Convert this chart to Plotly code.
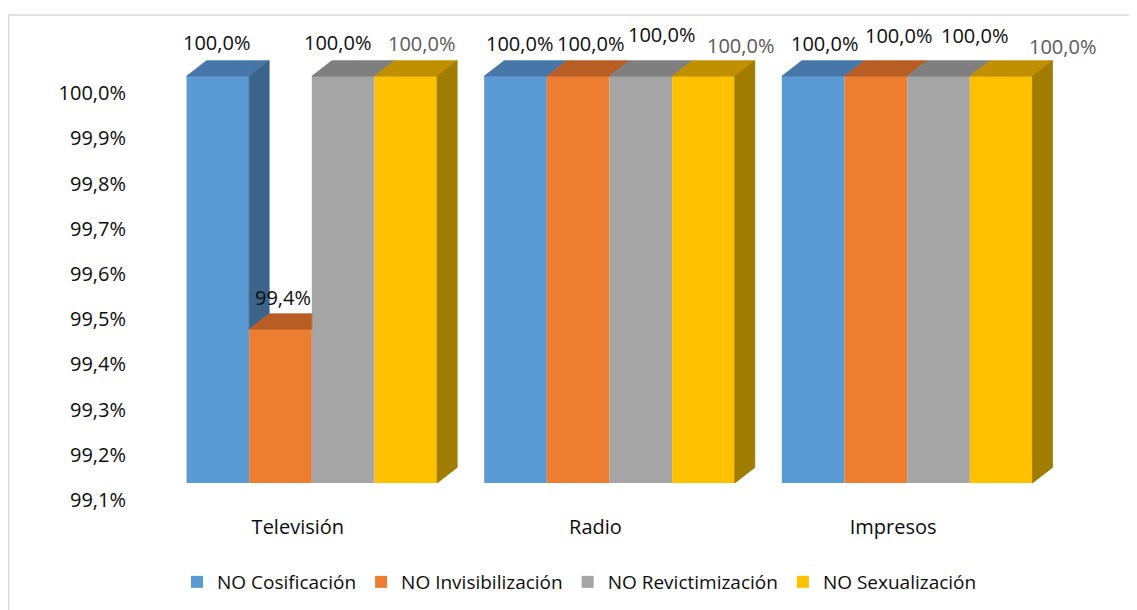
import plotly.graph_objects as go

# ---------------- data ----------------
categories = ["Televisión", "Radio", "Impresos"]
series_names = ["NO Cosificación", "NO Invisibilización", "NO Revictimización", "NO Sexualización"]
no_cosificacion = [100.0, 100.0, 100.0]
no_invisibilizacion = [99.44, 100.0, 100.0]
no_revictimizacion = [100.0, 100.0, 100.0]
no_sexualizacion = [100.0, 100.0, 100.0]
y_ticks = [99.1, 99.2, 99.3, 99.4, 99.5, 99.6, 99.7, 99.8, 99.9, 100.0]

series_values = [no_cosificacion, no_invisibilizacion, no_revictimizacion, no_sexualizacion]

# ---------------- style ----------------
FRONT = ["#5B9BD5", "#ED7D31", "#A5A5A5", "#FFC000"]
TOP = ["#4677A8", "#B85E24", "#7F7F7F", "#C09000"]
SIDE = ["#3A6489", "#9E4F1E", "#6E6E6E", "#A07C00"]
LABEL_COLORS = ["#0D0D0D", "#0D0D0D", "#0D0D0D", "#595959"]
FONT = "Open Sans"

def fmt_pct(v):
    return f"{v:.1f}".replace(".", ",") + "%"

W, H = 1137, 610
ML, MR, MT, MB = 154.5, 88.5, 32, 135
PW = W - ML - MR
PH = H - MT - MB
PX_PER_CAT = PW / 3.0
PX_PER_PCT = 452.0
BASE = y_ticks[0]
Y_TOP = BASE + PH / PX_PER_PCT

GROUP_W = 0.842
BW = GROUP_W / 4
DX = 20.0 / PX_PER_CAT
DY = 15.5 / PX_PER_PCT

# label nudges in pixels (dx, dy) per series per category
LABEL_NUDGE = [
    [(-1.5, 0), (4, -1), (11, -1)],
    [(2.5, -2), (12, -1), (23, 7)],
    [(-5.5, 0), (21, 8), (36, 7)],
    [(16, -1), (37, -3), (61, -4)],
]
LABEL_RAISE = 34

fig = go.Figure()

def xpos(i, j):
    return i + (j - 1.5) * BW

# front faces (bars)
for j, name in enumerate(series_names):
    vals = series_values[j]
    fig.add_trace(go.Bar(
        x=[xpos(i, j) for i in range(len(categories))],
        y=[v - BASE for v in vals],
        base=BASE,
        width=BW,
        name=name,
        marker=dict(color=FRONT[j], line=dict(width=0)),
        hoverinfo="skip",
    ))

# 3D top and side faces
for j in range(len(series_names)):
    tx, ty, sx, sy = [], [], [], []
    for i in range(len(categories)):
        v = series_values[j][i]
        xc = xpos(i, j)
        xl, xr = xc - BW / 2, xc + BW / 2
        nxt = series_values[j + 1][i] if j < len(series_names) - 1 else None
        if nxt is not None and nxt > v:
            px = [xl, xr, xr, xl + DX]
        else:
            px = [xl, xr, xr + DX, xl + DX]
        py = [v, v, v + DY, v + DY]
        tx += px + [px[0], None]
        ty += py + [py[0], None]
        if nxt is None:
            qx = [xr, xr + DX, xr + DX, xr]
            qy = [v, v + DY, BASE + DY, BASE]
        elif nxt < v:
            qx = [xr, xr + DX, xr + DX, xr]
            qy = [v, v + DY, nxt + DY, nxt]
        else:
            qx, qy = [], []
        if qx:
            sx += qx + [qx[0], None]
            sy += qy + [qy[0], None]
    fig.add_trace(go.Scatter(x=tx, y=ty, mode="lines", fill="toself",
                             fillcolor=TOP[j], line=dict(color=TOP[j], width=0.8),
                             showlegend=False, hoverinfo="skip"))
    if sx:
        fig.add_trace(go.Scatter(x=sx, y=sy, mode="lines", fill="toself",
                                 fillcolor=SIDE[j], line=dict(color=SIDE[j], width=0.8),
                                 showlegend=False, hoverinfo="skip"))

# data labels
for j in range(len(series_names)):
    for i in range(len(categories)):
        v = series_values[j][i]
        ndx, ndy = LABEL_NUDGE[j][i]
        fig.add_annotation(
            x=xpos(i, j), y=v, xref="x", yref="y",
            text=fmt_pct(v),
            showarrow=False, xanchor="center", yanchor="middle",
            xshift=ndx, yshift=LABEL_RAISE + ndy,
            font=dict(family=FONT, size=20, color=LABEL_COLORS[j]),
        )

# chart border
fig.add_shape(type="rect", xref="paper", yref="paper",
              x0=(0 - ML) / PW, x1=(W + 10 - ML) / PW,
              y0=-(MB + 10) / PH, y1=(H - MB - 7) / PH,
              line=dict(color="#D9D9D9", width=1.5), fillcolor="rgba(0,0,0,0)",
              layer="below")

fig.update_layout(
    width=W, height=H, autosize=False,
    margin=dict(l=ML, r=MR, t=MT, b=MB, pad=0),
    paper_bgcolor="white", plot_bgcolor="white",
    barmode="overlay",
    separators=",.",
    font=dict(family=FONT, size=20, color="#0D0D0D"),
    xaxis=dict(range=[-0.5, 2.5], tickmode="array", tickvals=list(range(len(categories))),
               ticktext=categories, showgrid=False, zeroline=False, showline=False,
               ticks="", ticklabelshift=-14, ticklabelstandoff=30,
               tickfont=dict(family=FONT, size=20, color="#0D0D0D"), fixedrange=True),
    yaxis=dict(range=[BASE, Y_TOP], tickmode="array", tickvals=y_ticks,
               ticktext=[fmt_pct(t) for t in y_ticks], showgrid=False, zeroline=False,
               showline=False, ticks="", ticklabelshift=17, ticklabelstandoff=36,
               tickfont=dict(family=FONT, size=20, color="#0D0D0D"), fixedrange=True),
    showlegend=True,
    legend=dict(orientation="h", xref="container", yref="container",
                x=(183 - 14) / W, xanchor="left", y=1 - (582 - 8) / H, yanchor="middle",
                font=dict(family=FONT, size=19, color="#0D0D0D"),
                bgcolor="rgba(0,0,0,0)", traceorder="normal"),
)

fig.write_html("out.html")
